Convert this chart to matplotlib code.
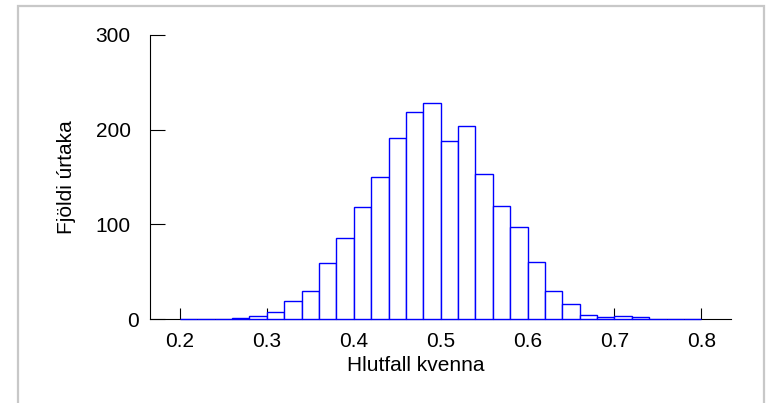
import numpy as np
import matplotlib
matplotlib.use("Agg")
import matplotlib.pyplot as plt
from matplotlib.patches import Rectangle
from matplotlib.transforms import ScaledTranslation

# sample proportions binned in steps of 0.02 from 0.2 to 0.8
bin_edges = np.round(np.arange(0.20, 0.8001, 0.02), 2)
counts = [0, 0, 0, 1, 3, 8, 19, 30, 59, 86,
          118, 150, 191, 218, 228, 188, 204, 153, 119, 97,
          60, 30, 16, 5, 2, 3, 2, 0, 0, 0]

x_ticks = [0.2, 0.3, 0.4, 0.5, 0.6, 0.7, 0.8]
x_tick_labels = ["0.2", "0.3", "0.4", "0.5", "0.6", "0.7", "0.8"]
y_ticks = [0, 100, 200, 300]
y_tick_labels = ["0", "100", "200", "300"]

plt.rcParams["font.family"] = ["Liberation Sans", "DejaVu Sans"]
FS = 15

fig = plt.figure(figsize=(7.66, 4.03), dpi=100)
ax = fig.add_axes([0.1958, 0.2077, 0.7581, 0.7062])

ax.bar(bin_edges[:-1], counts, width=0.02, align="edge",
       color="white", edgecolor="#0000ff", linewidth=1.0,
       zorder=3, clip_on=False)

ax.set_xlim(0.1655, 0.8337)
ax.set_ylim(0, 300)
ax.set_xticks(x_ticks)
ax.set_xticklabels(x_tick_labels)
ax.set_yticks(y_ticks)
ax.set_yticklabels(y_tick_labels)

for side in ["top", "right"]:
    ax.spines[side].set_visible(False)
for side in ["left", "bottom"]:
    ax.spines[side].set_linewidth(0.8)
    ax.spines[side].set_color("black")

ax.tick_params(axis="x", direction="in", length=8, width=0.8,
               labelsize=FS, pad=9)
ax.tick_params(axis="y", direction="in", length=10.5, width=0.8,
               labelsize=FS, pad=14)
for t in ax.xaxis.get_major_ticks():
    t.tick1line.set_zorder(4)

# the zero label sits a little further right than the others
zero_lbl = ax.get_yticklabels()[0]
zero_lbl.set_transform(zero_lbl.get_transform() +
                       ScaledTranslation(8 / 100, 0, fig.dpi_scale_trans))

ax.set_xlabel("Hlutfall kvenna", fontsize=FS)
ax.xaxis.set_label_coords(0.457, -0.128)
ax.set_ylabel("Fjöldi úrtaka", fontsize=FS)
ax.yaxis.set_label_coords(-0.127, 0.5)

# light grey frame around the figure, open at the bottom
frame = Rectangle((18 / 766, -0.1), (764 - 18) / 766, 1 - 6 / 403 + 0.1,
                  transform=fig.transFigure, fill=False,
                  edgecolor="#c8c8c8", linewidth=1.6)
fig.patches.append(frame)

fig.savefig("out.png", dpi=100)
